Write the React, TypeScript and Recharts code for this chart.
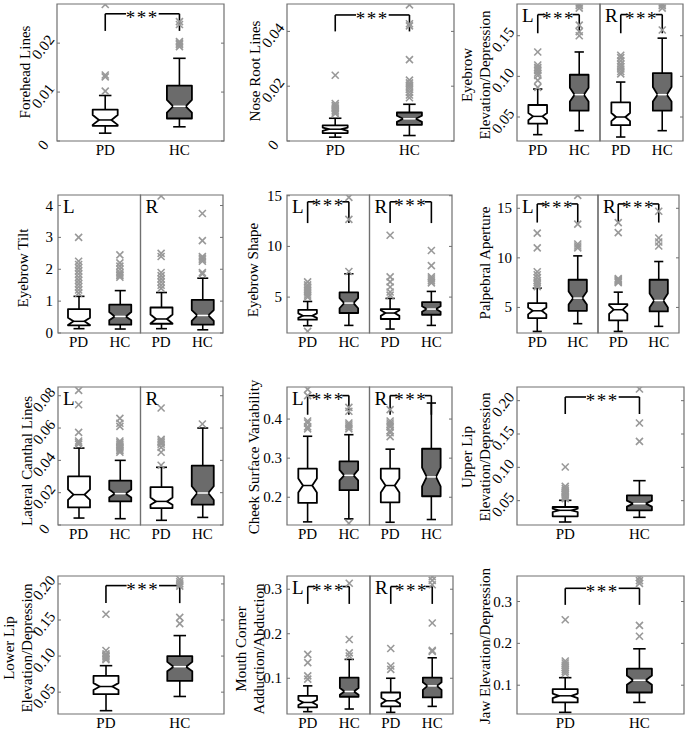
import React from "react";
import { ComposedChart, Bar, Scatter, XAxis, YAxis, ReferenceLine, ReferenceArea } from "recharts";

const groups = ["PD", "HC"];
const sides = ["L", "R"];

// each box: [low whisker, q1, notch low, median, notch high, q3, high whisker]
const foreheadBoxes = [
  [0.0016, 0.0031, 0.0033, 0.0043, 0.0053, 0.0064, 0.0093],
  [0.0029, 0.0046, 0.0058, 0.0071, 0.0084, 0.0113, 0.0169],
];
const foreheadOut = [
  [0.0102, 0.0131, 0.0135, 0.0279],
  [0.0193, 0.0197, 0.02, 0.0203, 0.0238, 0.0244],
];
const foreheadBracket = [0.026, 0.0225];

const noseBoxes = [
  [0.0014, 0.0029, 0.0037, 0.0043, 0.0049, 0.0057, 0.0083],
  [0.002, 0.0059, 0.007, 0.0081, 0.0092, 0.0104, 0.0134],
];
const noseOut = [
  [0.01, 0.0106, 0.0112, 0.0118, 0.0124, 0.013, 0.0137, 0.024],
  [0.0158, 0.0168, 0.0178, 0.0188, 0.0196, 0.0204, 0.0212, 0.0222, 0.0297, 0.042, 0.0428, 0.0497],
];
const noseBracket = [0.046, 0.04];

const browElevBoxes = [
  [0.0283, 0.0418, 0.046, 0.0508, 0.055, 0.0648, 0.0844],
  [0.0332, 0.0578, 0.069, 0.0775, 0.086, 0.102, 0.13],
  [0.0254, 0.04, 0.045, 0.05, 0.055, 0.068, 0.093],
  [0.0332, 0.0578, 0.069, 0.0775, 0.087, 0.104, 0.147],
];
const browElevOut = [
  [0.0865, 0.095, 0.101, 0.104, 0.107, 0.109, 0.111, 0.114, 0.13],
  [0.15, 0.155, 0.163, 0.184, 0.187, 0.189],
  [0.103, 0.106, 0.109, 0.112, 0.115, 0.119, 0.123, 0.126],
  [0.157, 0.184, 0.187, 0.189],
];
const browElevBracket = [0.176, 0.153];

const tiltBoxes = [
  [0.136, 0.24, 0.25, 0.366, 0.48, 0.75, 1.15],
  [0.125, 0.26, 0.4, 0.52, 0.66, 0.89, 1.33],
  [0.136, 0.29, 0.3, 0.44, 0.58, 0.8, 1.27],
  [0.1, 0.26, 0.38, 0.55, 0.72, 1.04, 1.72],
];
const tiltOut = [
  [1.25, 1.35, 1.45, 1.55, 1.65, 1.75, 1.85, 1.95, 2.05, 2.15, 2.25, 3.0],
  [1.75, 1.8, 1.85, 1.9, 2.0, 2.1, 2.2, 2.45],
  [1.4, 1.5, 1.6, 1.7, 1.8, 1.9, 2.4, 2.5, 4.3],
  [1.85, 1.9, 2.25, 2.3, 2.35, 2.4, 2.9, 3.75],
];

const shapeBoxes = [
  [2.18, 2.77, 2.95, 3.16, 3.4, 3.75, 4.57],
  [2.21, 3.43, 3.9, 4.41, 4.9, 5.46, 7.3],
  [1.85, 2.84, 3.15, 3.43, 3.7, 3.82, 4.87],
  [2.21, 3.26, 3.55, 3.82, 4.1, 4.51, 5.56],
];
const shapeOut = [
  [1.62, 5.0, 5.2, 5.4, 5.6, 5.8, 6.0, 6.2, 6.5],
  [7.52, 12.67, 14.84],
  [5.2, 5.5, 6.0, 6.5, 7.0, 11.1],
  [6.4, 6.6, 6.8, 7.0, 8.1, 9.6],
];
const shapeBracket = [14.4, 12.3];

const palpBoxes = [
  [2.58, 3.93, 4.3, 4.66, 5.0, 5.44, 6.95],
  [3.36, 4.66, 5.3, 5.94, 6.6, 7.79, 10.2],
  [2.58, 3.69, 4.35, 4.77, 5.2, 5.34, 6.54],
  [3.09, 4.6, 5.0, 5.7, 6.4, 7.79, 9.63],
];
const palpOut = [
  [7.1, 7.3, 7.5, 7.7, 8.0, 8.3, 8.6, 11.0, 12.5],
  [11.0, 11.2, 11.4, 13.4, 16.3],
  [7.5, 7.6, 7.7, 7.8, 7.9, 12.55, 13.56],
  [11.2, 11.6, 12.0, 14.7],
];
const palpBracket = [15.44, 13.56];

const canthalBoxes = [
  [0.0043, 0.0109, 0.0155, 0.0188, 0.022, 0.0301, 0.0476],
  [0.0039, 0.0146, 0.017, 0.0194, 0.022, 0.0274, 0.04],
  [0.0029, 0.0105, 0.0125, 0.0146, 0.017, 0.0235, 0.0357],
  [0.0047, 0.0126, 0.0155, 0.0198, 0.024, 0.0367, 0.06],
];
const canthalOut = [
  [0.05, 0.051, 0.052, 0.0573, 0.0744, 0.0833],
  [0.045, 0.046, 0.047, 0.048, 0.049, 0.05, 0.051, 0.052, 0.061, 0.063, 0.066],
  [0.037, 0.045, 0.048, 0.05, 0.051, 0.052, 0.053, 0.0724],
  [0.0625],
];

const cheekBoxes = [
  [0.137, 0.1855, 0.212, 0.23, 0.248, 0.273, 0.356],
  [0.1447, 0.218, 0.243, 0.256, 0.27, 0.292, 0.36],
  [0.136, 0.187, 0.212, 0.23, 0.248, 0.273, 0.323],
  [0.143, 0.2025, 0.228, 0.252, 0.276, 0.324, 0.441],
];
const cheekOut = [
  [0.375, 0.38, 0.39, 0.395, 0.46, 0.476],
  [0.133, 0.375, 0.38, 0.385, 0.39, 0.42, 0.43],
  [0.355, 0.365, 0.37, 0.38, 0.385, 0.39, 0.395, 0.424],
  [],
];
const cheekBracket = [0.46, 0.411];

const upperLipBoxes = [
  [0.018, 0.0265, 0.033, 0.0355, 0.038, 0.0405, 0.0505],
  [0.025, 0.0355, 0.041, 0.0455, 0.05, 0.058, 0.08],
];
const upperLipOut = [
  [0.053, 0.055, 0.057, 0.059, 0.061, 0.063, 0.065, 0.068, 0.0715, 0.1005],
  [0.139, 0.1665, 0.2175],
];
const upperLipBracket = [0.2055, 0.18];

const lowerLipBoxes = [
  [0.0243, 0.0472, 0.053, 0.0578, 0.0625, 0.0725, 0.0867],
  [0.044, 0.0656, 0.079, 0.0853, 0.092, 0.1, 0.1284],
];
const lowerLipOut = [
  [0.095, 0.097, 0.099, 0.101, 0.103, 0.1078, 0.158],
  [0.145, 0.1537, 0.197, 0.2, 0.203, 0.2065],
];
const lowerLipBracket = [0.1977, 0.1734];

const mouthBoxes = [
  [0.0249, 0.0346, 0.04, 0.0457, 0.051, 0.0606, 0.0829],
  [0.0309, 0.0584, 0.063, 0.0703, 0.078, 0.1015, 0.1424],
  [0.0234, 0.0368, 0.043, 0.0494, 0.056, 0.068, 0.1],
  [0.0368, 0.0569, 0.074, 0.0829, 0.091, 0.1015, 0.146],
];
const mouthOut = [
  [0.098, 0.1052, 0.135, 0.1535],
  [0.15, 0.157, 0.187, 0.3134],
  [0.12, 0.1275, 0.1669],
  [0.16, 0.1625, 0.2242, 0.31, 0.32, 0.328],
];
const mouthBracket = [0.306, 0.267];

const jawBoxes = [
  [0.0352, 0.0589, 0.069, 0.0747, 0.08, 0.0905, 0.118],
  [0.0589, 0.0826, 0.101, 0.1119, 0.123, 0.1395, 0.187],
];
const jawOut = [
  [0.128, 0.133, 0.138, 0.143, 0.148, 0.153, 0.158, 0.2565],
  [0.217, 0.243, 0.3435, 0.35, 0.357],
];
const jawBracket = [0.3316, 0.292];

const foreheadTicks = [0, 0.01, 0.02];
const foreheadTickLabels = ["0", "0.01", "0.02"];
const noseTicks = [0, 0.02, 0.04];
const noseTickLabels = ["0", "0.02", "0.04"];
const browElevTicks = [0.05, 0.1, 0.15];
const browElevTickLabels = ["0.05", "0.10", "0.15"];
const tiltTicks = [0, 1, 2, 3, 4];
const tiltTickLabels = ["0", "1", "2", "3", "4"];
const fiveTicks = [5, 10, 15];
const fiveTickLabels = ["5", "10", "15"];
const canthalTicks = [0, 0.02, 0.04, 0.06, 0.08];
const canthalTickLabels = ["0", "0.02", "0.04", "0.06", "0.08"];
const cheekTicks = [0.2, 0.3, 0.4];
const cheekTickLabels = ["0.2", "0.3", "0.4"];
const lipTicks = [0.05, 0.1, 0.15, 0.2];
const lipTickLabels = ["0.05", "0.10", "0.15", "0.20"];
const tenthTicks = [0.1, 0.2, 0.3];
const tenthTickLabels = ["0.1", "0.2", "0.3"];

type PanelSpec = {
  title: string[];
  titleAt: number[];
  rect: number[];
  domain: number[];
  ticks: number[];
  tickLabels: string[];
  slant: boolean;
  boxes: number[][];
  outliers: number[][];
  bracket?: number[];
};

const panels: PanelSpec[] = [
  { title: ["Forehead Lines"], titleAt: [25, 72], rect: [57, 4, 167, 137], domain: [0, 0.028], ticks: foreheadTicks, tickLabels: foreheadTickLabels, slant: true, boxes: foreheadBoxes, outliers: foreheadOut, bracket: foreheadBracket },
  { title: ["Nose Root Lines"], titleAt: [255, 71], rect: [287, 4, 167, 137], domain: [0, 0.05], ticks: noseTicks, tickLabels: noseTickLabels, slant: true, boxes: noseBoxes, outliers: noseOut, bracket: noseBracket },
  { title: ["Eyebrow", "Elevation/Depression"], titleAt: [476, 75], rect: [517, 4, 166, 137], domain: [0.0205, 0.189], ticks: browElevTicks, tickLabels: browElevTickLabels, slant: true, boxes: browElevBoxes, outliers: browElevOut, bracket: browElevBracket },
  { title: ["Eyebrow Tilt"], titleAt: [23, 268], rect: [58, 195, 165, 138], domain: [0, 4.33], ticks: tiltTicks, tickLabels: tiltTickLabels, slant: false, boxes: tiltBoxes, outliers: tiltOut },
  { title: ["Eyebrow Shape"], titleAt: [253, 270], rect: [287, 195, 165, 138], domain: [1.46, 15.07], ticks: fiveTicks, tickLabels: fiveTickLabels, slant: false, boxes: shapeBoxes, outliers: shapeOut, bracket: shapeBracket },
  { title: ["Palpebral Aperture"], titleAt: [485, 263], rect: [517, 195, 162, 138], domain: [2.42, 16.34], ticks: fiveTicks, tickLabels: fiveTickLabels, slant: false, boxes: palpBoxes, outliers: palpOut, bracket: palpBracket },
  { title: ["Lateral Canthal Lines"], titleAt: [27, 461], rect: [58, 387, 165, 138], domain: [0, 0.0854], ticks: canthalTicks, tickLabels: canthalTickLabels, slant: true, boxes: canthalBoxes, outliers: canthalOut },
  { title: ["Cheek Surface Variability"], titleAt: [254, 457], rect: [287, 387, 165, 138], domain: [0.129, 0.482], ticks: cheekTicks, tickLabels: cheekTickLabels, slant: false, boxes: cheekBoxes, outliers: cheekOut, bracket: cheekBracket },
  { title: ["Upper Lip", "Elevation/Depression"], titleAt: [476, 457], rect: [517, 387, 167, 138], domain: [0.0135, 0.2205], ticks: lipTicks, tickLabels: lipTickLabels, slant: true, boxes: upperLipBoxes, outliers: upperLipOut, bracket: upperLipBracket },
  { title: ["Lower Lip", "Elevation/Depression"], titleAt: [18, 648], rect: [58, 576, 166, 138], domain: [0.0197, 0.211], ticks: lipTicks, tickLabels: lipTickLabels, slant: true, boxes: lowerLipBoxes, outliers: lowerLipOut, bracket: lowerLipBracket },
  { title: ["Mouth Corner", "Adduction/Abduction"], titleAt: [249.5, 649], rect: [287, 576, 166, 138], domain: [0.0197, 0.3297], ticks: tenthTicks, tickLabels: tenthTickLabels, slant: false, boxes: mouthBoxes, outliers: mouthOut, bracket: mouthBracket },
  { title: ["Jaw Elevation/Depression"], titleAt: [485, 646], rect: [517, 576, 167, 138], domain: [0.0312, 0.361], ticks: tenthTicks, tickLabels: tenthTickLabels, slant: false, boxes: jawBoxes, outliers: jawOut, bracket: jawBracket },
];

const SERIF = "'Liberation Serif', 'Times New Roman', serif";
const Y_W = 45;
const M_TOP = 6;
const M_RIGHT = 6;
const X_H = 26;
const HC_FILL = "#6b6b6b";
const FRAME = "#707070";

function BoxShape(props: any) {
  const { x, y, width, height, payload } = props;
  if (!payload || width == null) return null;
  const top = Math.min(y, y + height);
  const h = Math.abs(height);
  const { lo, hi, q1, q3, med, nlo, nhi, hc } = payload;
  const py = (v: number) => top + ((hi - v) / (hi - lo)) * h;
  const x0 = x;
  const x1 = x + width;
  const cx = x + width / 2;
  const ind = width / 4;
  const cap = width / 4;
  const pts = [
    [x0, py(q3)], [x1, py(q3)], [x1, py(nhi)], [x1 - ind, py(med)], [x1, py(nlo)],
    [x1, py(q1)], [x0, py(q1)], [x0, py(nlo)], [x0 + ind, py(med)], [x0, py(nhi)],
  ];
  return (
    <g>
      <g stroke="#000" strokeWidth={1.6}>
        <line x1={cx} y1={py(hi)} x2={cx} y2={py(q3)} />
        <line x1={cx} y1={py(q1)} x2={cx} y2={py(lo)} />
        <line x1={cx - cap} y1={py(hi)} x2={cx + cap} y2={py(hi)} />
        <line x1={cx - cap} y1={py(lo)} x2={cx + cap} y2={py(lo)} />
      </g>
      <polygon
        points={pts.map((p) => p.join(",")).join(" ")}
        fill={hc ? HC_FILL : "#fff"}
        stroke="#000"
        strokeWidth={1.8}
        strokeLinejoin="round"
      />
      <line x1={x0 + ind} y1={py(med)} x2={x1 - ind} y2={py(med)} stroke={hc ? "#fff" : "#000"} strokeWidth={1.5} />
    </g>
  );
}

function Cross(props: any) {
  const { cx, cy } = props;
  if (cx == null || cy == null) return null;
  const s = 3.5;
  return (
    <g stroke="#999" strokeWidth={1.6}>
      <line x1={cx - s} y1={cy - s} x2={cx + s} y2={cy + s} />
      <line x1={cx - s} y1={cy + s} x2={cx + s} y2={cy - s} />
    </g>
  );
}

function Stars(props: any) {
  const { cx, cy } = props;
  if (cx == null || cy == null) return null;
  return (
    <text x={cx} y={cy + 10} textAnchor="middle" fontSize={19} letterSpacing={1.5} fill="#000" fontFamily={SERIF}>
      ***
    </text>
  );
}

const noTick = () => <g />;

function Panel({ p }: { p: PanelSpec }) {
  const four = p.boxes.length === 4;
  const [left, top, w, h] = p.rect;
  const xDom = four ? [0.5, 4.5] : [0.35, 2.6];
  const xTicks = p.boxes.map((_, i) => i + 1);
  const rows = p.boxes.map((b, i) => ({
    x: i + 1, lo: b[0], q1: b[1], nlo: b[2], med: b[3], nhi: b[4], q3: b[5], hi: b[6], hc: i % 2 === 1,
  }));
  const pts = p.outliers.flatMap((o, i) => o.map((v) => ({ x: i + 1, y: v })));
  const bw = four ? 22 : 25;
  const starts = p.bracket ? (four ? [1, 3] : [1]) : [];
  const half = four ? 0.34 : 0.22;
  const starPts = p.bracket ? starts.map((s) => ({ x: s + 0.5, y: p.bracket![0] })) : [];
  const plotBottom = M_TOP + h;

  const yTick = (tp: any) => {
    const v = tp.payload?.value;
    const idx = p.ticks.indexOf(v);
    const label = idx >= 0 ? p.tickLabels[idx] : String(v);
    if (p.slant) {
      const cx = Y_W - 14;
      const cy = tp.y + 4;
      return (
        <text x={cx} y={cy} textAnchor="middle" dominantBaseline="central" fontSize={15} fill="#000"
          fontFamily={SERIF} transform={`rotate(-52 ${cx} ${cy})`}>
          {label}
        </text>
      );
    }
    return (
      <text x={Y_W - 5} y={tp.y} textAnchor="end" dominantBaseline="central" fontSize={15} fill="#000" fontFamily={SERIF}>
        {label}
      </text>
    );
  };

  const xTick = (tp: any) => {
    const v = tp.payload?.value;
    return (
      <text x={tp.x} y={plotBottom + 14} textAnchor="middle" fontSize={15} fill="#000" fontFamily={SERIF}>
        {groups[(v - 1) % 2]}
      </text>
    );
  };

  return (
    <div style={{ position: "absolute", left: left - Y_W, top: top - M_TOP }}>
      <ComposedChart
        width={w + Y_W + M_RIGHT}
        height={h + M_TOP + X_H}
        data={rows}
        margin={{ top: M_TOP, right: M_RIGHT, bottom: 0, left: Y_W }}
      >
        <XAxis
          type="number"
          dataKey="x"
          domain={xDom}
          ticks={xTicks}
          interval={0}
          allowDataOverflow
          axisLine={false}
          tickLine={false}
          tickSize={0}
          tickMargin={0}
          height={X_H}
          tick={xTick}
        />
        <YAxis
          type="number"
          domain={p.domain}
          ticks={p.ticks}
          interval={0}
          allowDataOverflow
          mirror
          axisLine={false}
          tickLine={{ stroke: FRAME }}
          tickSize={3}
          width={Y_W}
          tick={yTick}
        />
        <YAxis
          yAxisId="r"
          orientation="right"
          type="number"
          domain={p.domain}
          ticks={p.ticks}
          interval={0}
          allowDataOverflow
          mirror
          axisLine={false}
          tickLine={{ stroke: FRAME }}
          tickSize={3}
          tick={noTick}
        />
        {four ? (
          sides.map((s, i) => (
            <ReferenceArea
              key={s}
              x1={0.5 + 2 * i}
              x2={2.5 + 2 * i}
              y1={p.domain[0]}
              y2={p.domain[1]}
              ifOverflow="visible"
              fill="none"
              stroke={FRAME}
              strokeWidth={1.2}
              label={{ value: s, position: "insideTopLeft", offset: 5, fontSize: 19, fill: "#000", fontFamily: SERIF }}
            />
          ))
        ) : (
          <ReferenceArea
            x1={xDom[0]}
            x2={xDom[1]}
            y1={p.domain[0]}
            y2={p.domain[1]}
            ifOverflow="visible"
            fill="none"
            stroke={FRAME}
            strokeWidth={1.2}
          />
        )}
        <Bar dataKey={(d: any) => [d.lo, d.hi]} barSize={bw} shape={BoxShape} isAnimationActive={false} />
        <Scatter data={pts} dataKey="y" shape={Cross} isAnimationActive={false} />
        {p.bracket &&
          starts.map((s) => [
            <ReferenceLine key={`a${s}`} ifOverflow="visible" stroke="#000" strokeWidth={1.6}
              segment={[{ x: s, y: p.bracket![1] }, { x: s, y: p.bracket![0] }]} />,
            <ReferenceLine key={`b${s}`} ifOverflow="visible" stroke="#000" strokeWidth={1.6}
              segment={[{ x: s, y: p.bracket![0] }, { x: s + 0.5 - half, y: p.bracket![0] }]} />,
            <ReferenceLine key={`c${s}`} ifOverflow="visible" stroke="#000" strokeWidth={1.6}
              segment={[{ x: s + 0.5 + half, y: p.bracket![0] }, { x: s + 1, y: p.bracket![0] }]} />,
            <ReferenceLine key={`d${s}`} ifOverflow="visible" stroke="#000" strokeWidth={1.6}
              segment={[{ x: s + 1, y: p.bracket![0] }, { x: s + 1, y: p.bracket![1] }]} />,
          ])}
        {p.bracket && <Scatter data={starPts} dataKey="y" shape={Stars} isAnimationActive={false} />}
      </ComposedChart>
    </div>
  );
}

export default function App() {
  return (
    <div
      style={{
        position: "absolute",
        left: 0,
        top: 0,
        width: 685,
        height: 732,
        background: "#fff",
        fontFamily: SERIF,
        color: "#000",
        overflow: "hidden",
      }}
    >
      {panels.map((p, i) => (
        <React.Fragment key={i}>
          <Panel p={p} />
          <div
            style={{
              position: "absolute",
              left: p.titleAt[0],
              top: p.titleAt[1],
              transform: "translate(-50%, -50%) rotate(-90deg)",
              whiteSpace: "nowrap",
              fontSize: 15,
              lineHeight: "18px",
              textAlign: "center",
            }}
          >
            {p.title.map((t, j) => (
              <div key={j}>{t}</div>
            ))}
          </div>
        </React.Fragment>
      ))}
    </div>
  );
}
